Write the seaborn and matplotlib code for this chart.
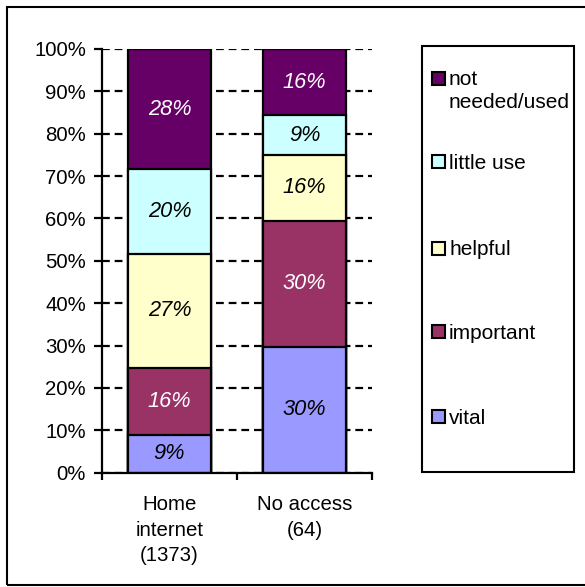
import matplotlib
matplotlib.use("Agg")
import matplotlib.pyplot as plt
from matplotlib.patches import Rectangle
import pandas as pd
import seaborn as sns

# Survey: how important is access to the service, by internet access group
groups = ["Home\ninternet\n(1373)", "No access\n(64)"]
levels = ["vital", "important", "helpful", "little use", "not\nneeded/used"]
home_pct = [9.0, 15.8, 26.8, 19.9, 28.4]
noaccess_pct = [29.7, 29.7, 15.6, 9.4, 15.6]
level_colors = ["#9999FF", "#993366", "#FFFFCC", "#CCFFFF", "#660066"]
text_colors = ["black", "white", "black", "black", "white"]
y_ticks = [0, 10, 20, 30, 40, 50, 60, 70, 80, 90, 100]

sns.set_style("ticks")
plt.rcParams["font.family"] = ["Liberation Sans", "DejaVu Sans"]

rows = []
for g, vals in zip(groups, [home_pct, noaccess_pct]):
    total = sum(vals)
    for lvl, v in zip(levels, vals):
        rows.append({"group": g, "level": lvl, "pct": v / total * 100})
df = pd.DataFrame(rows)
df["top"] = df.groupby("group")["pct"].cumsum()

W, H = 585, 587
fig = plt.figure(figsize=(W / 100, H / 100), dpi=100)
ax = fig.add_axes([102 / W, 1 - 472.7 / H, 270 / W, 423.7 / H])

# stacked 100% bars: draw cumulative heights from the top layer down
for lvl, col in reversed(list(zip(levels, level_colors))):
    sub = df[df["level"] == lvl]
    sns.barplot(data=sub, x="group", y="top", order=groups, color=col,
                saturation=1, edgecolor="black", linewidth=1.6, width=0.62,
                errorbar=None, ax=ax, zorder=3)

# segment value labels
for _, r in df.iterrows():
    i = groups.index(r["group"])
    k = levels.index(r["level"])
    ax.text(i, r["top"] - r["pct"] / 2, f"{r['pct']:.0f}%", ha="center",
            va="center", fontsize=15.7, style="italic", color=text_colors[k],
            zorder=4)

ax.set_xlim(-0.5, 1.5)
ax.set_ylim(0, 100)
ax.set_yticks(y_ticks)
ax.set_yticklabels([f"{v}%" for v in y_ticks])
ax.set_xticks([0, 1])
ax.set_xticklabels(groups, linespacing=1.45)
ax.set_xticks([-0.5, 0.5, 1.5], minor=True)
ax.set_xlabel("")
ax.set_ylabel("")
ax.tick_params(axis="x", which="major", length=0, pad=16, labelsize=14.7,
               colors="black")
ax.tick_params(axis="x", which="minor", length=5, width=1.6, direction="out",
               color="black")
ax.tick_params(axis="y", length=5.5, width=1.6, direction="out", pad=6,
               labelsize=14.7, colors="black")

ax.set_axisbelow(True)
ax.yaxis.grid(True, color="black", linestyle=(0, (3.5, 2.2)), linewidth=1.6)
ax.xaxis.grid(False)
for s in ["top", "right"]:
    ax.spines[s].set_visible(False)
for s in ["left", "bottom"]:
    ax.spines[s].set_linewidth(1.6)
    ax.spines[s].set_color("black")
    ax.spines[s].set_zorder(5)

# legend panel
fig.add_artist(Rectangle((422 / W, 1 - 472 / H), 152 / W, 426 / H,
                         transform=fig.transFigure, facecolor="white",
                         edgecolor="black", linewidth=1.5))
marker_y = [416.7, 331.7, 248, 162, 79]
line_pitch = 22
for lvl, col, my in zip(levels, level_colors, marker_y):
    fig.add_artist(Rectangle((432 / W, 1 - (my + 6.5) / H), 13 / W, 13 / H,
                             transform=fig.transFigure, facecolor=col,
                             edgecolor="black", linewidth=1.5))
    extra = (lvl.count("\n")) * line_pitch
    fig.text(449 / W, 1 - (my + 7 + extra) / H, lvl, ha="left", va="baseline",
             fontsize=15, linespacing=1.27, color="black")

# outer frame
fig.add_artist(Rectangle((6.5 / W, 1 - 585 / H), 600 / W, 578.5 / H,
                         transform=fig.transFigure, facecolor="none",
                         edgecolor="black", linewidth=1.5, clip_on=False))

fig.savefig("out.png", dpi=100)
